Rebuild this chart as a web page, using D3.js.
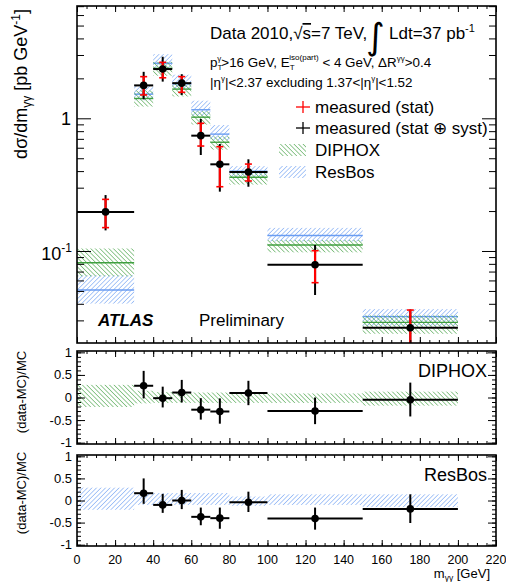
<!DOCTYPE html>
<html>
<head>
<meta charset="utf-8">
<title>Diphoton mass spectrum</title>
<style>
    body { margin: 0; background: #fff; }
    text { font-family: "Liberation Sans", Arial, sans-serif; fill: #000; }
</style>
</head>
<body>
<div id="chart"></div>
<script src="https://d3js.org/d3.v7.min.js"></script>
<script>
    // bins in m_gg [GeV]
    var binLo = [0, 30, 40, 50, 60, 70, 80, 100, 150];
    var binHi = [30, 40, 50, 60, 70, 80, 100, 150, 200];

    // measured cross section [pb/GeV] and error bar ends
    var dataVal = [0.197, 1.77, 2.35, 1.84, 0.74, 0.45, 0.394, 0.0788, 0.0264];
    var statHi  = [0.245, 2.06, 2.64, 2.06, 0.917, 0.611, 0.452, 0.1005, 0.0359];
    var statLo  = [0.150, 1.50, 2.02, 1.57, 0.618, 0.305, 0.337, 0.0577, 0.015];
    var totHi   = [0.264, 2.24, 2.91, 2.15, 0.988, 0.64, 0.491, 0.111, 0.0362];
    var totLo   = [0.143, 1.39, 1.89, 1.50, 0.529, 0.28, 0.305, 0.0466, 0.012];

    // predictions: central value and relative band (up / down)
    var diphoxVal = [0.0816, 1.41, 2.38, 1.66, 1.02, 0.66, 0.36, 0.111, 0.029];
    var diphoxUp  = [0.28, 0.15, 0.12, 0.12, 0.11, 0.11, 0.10, 0.09, 0.13];
    var diphoxDn  = [-0.21, -0.13, -0.12, -0.12, -0.12, -0.12, -0.12, -0.12, -0.18];
    var resbosVal = [0.0508, 1.52, 2.60, 1.82, 1.16, 0.76, 0.40, 0.131, 0.032];
    var resbosUp  = [0.29, 0.17, 0.17, 0.17, 0.17, 0.17, 0.09, 0.14, 0.14];
    var resbosDn  = [-0.21, -0.10, -0.10, -0.10, -0.10, -0.10, -0.12, -0.10, -0.15];

    // (data-MC)/MC
    var ratDiphox   = [null, 0.26, -0.015, 0.11, -0.27, -0.31, 0.10, -0.30, -0.05];
    var ratDiphoxHi = [null, 0.59, 0.24, 0.39, -0.015, -0.02, 0.37, 0.0, 0.33];
    var ratDiphoxLo = [null, -0.02, -0.22, -0.11, -0.49, -0.58, -0.17, -0.59, -0.42];
    var ratResbos   = [null, 0.165, -0.10, 0.0, -0.37, -0.40, -0.04, -0.41, -0.19];
    var ratResbosHi = [null, 0.50, 0.15, 0.24, -0.16, -0.16, 0.20, -0.16, 0.14];
    var ratResbosLo = [null, -0.075, -0.28, -0.195, -0.56, -0.64, -0.26, -0.66, -0.51];

    var xTicks = d3.range(0, 221, 20);

    var width = 506, height = 582;
    var green = '#3f9f3f', blue = '#6a9df2';

    var svg = d3.select('#chart').append('svg')
        .attr('width', width)
        .attr('height', height);

    var defs = svg.append('defs');
    function hatch(id, color, angle) {
        var p = defs.append('pattern')
            .attr('id', id)
            .attr('patternUnits', 'userSpaceOnUse')
            .attr('width', 3.2).attr('height', 3.2)
            .attr('patternTransform', 'rotate(' + angle + ')');
        p.append('line')
            .attr('x1', 0).attr('y1', 0).attr('x2', 0).attr('y2', 3.2)
            .attr('stroke', color).attr('stroke-width', 1.1);
    }
    hatch('hDiphox', green, -45);
    hatch('hResbos', blue, 45);

    var x = d3.scaleLinear().domain([0, 220]).range([77, 496]);
    var yMain = d3.scaleLog().domain([0.02026, 7.02]).range([343, 6]);
    var yR1 = d3.scaleLinear().domain([-1.03, 1.03]).range([444, 351]);
    var yR2 = d3.scaleLinear().domain([-1.03, 1.03]).range([546, 455]);

    var idx = d3.range(binLo.length);

    // tick helper: inward ticks, no labels
    function ticks(axis, scale, values, size, tx, ty) {
        var g = svg.append('g')
            .attr('transform', 'translate(' + tx + ',' + ty + ')')
            .call(axis(scale).tickValues(values).tickSize(size).tickFormat(''));
        g.select('.domain').remove();
        g.selectAll('line').attr('stroke', '#000').attr('stroke-width', 1);
    }

    function frame(yScale) {
        var r = yScale.range();
        svg.append('rect')
            .attr('x', x(0)).attr('y', r[1])
            .attr('width', x(220) - x(0)).attr('height', r[0] - r[1])
            .attr('fill', 'none').attr('stroke', '#000').attr('stroke-width', 1.6);
        var minor = d3.range(0, 221, 5);
        ticks(d3.axisTop, x, minor, 3, 0, r[0]);
        ticks(d3.axisTop, x, xTicks, 6, 0, r[0]);
        ticks(d3.axisBottom, x, minor, 3, 0, r[1]);
        ticks(d3.axisBottom, x, xTicks, 6, 0, r[1]);
    }

    function clip(id, yScale) {
        var r = yScale.range();
        defs.append('clipPath').attr('id', id).append('rect')
            .attr('x', x(0)).attr('y', r[1])
            .attr('width', x(220) - x(0)).attr('height', r[0] - r[1]);
        return svg.append('g').attr('clip-path', 'url(#' + id + ')');
    }

    // ---------------- main panel ----------------
    var main = clip('cMain', yMain);

    function bands(g, vals, up, dn, fill, line, ys) {
        g.selectAll(null).data(idx).enter().append('rect')
            .attr('x', function(i) { return x(binLo[i]); })
            .attr('width', function(i) { return x(binHi[i]) - x(binLo[i]); })
            .attr('y', function(i) { return ys(vals[i] * (1 + up[i])); })
            .attr('height', function(i) { return ys(vals[i] * (1 + dn[i])) - ys(vals[i] * (1 + up[i])); })
            .attr('fill', fill);
        if (line) {
            g.selectAll(null).data(idx).enter().append('line')
                .attr('x1', function(i) { return x(binLo[i]); })
                .attr('x2', function(i) { return x(binHi[i]); })
                .attr('y1', function(i) { return ys(vals[i]); })
                .attr('y2', function(i) { return ys(vals[i]); })
                .attr('stroke', line).attr('stroke-width', 1.4);
        }
    }
    bands(main, resbosVal, resbosUp, resbosDn, 'url(#hResbos)', blue, yMain);
    bands(main, diphoxVal, diphoxUp, diphoxDn, 'url(#hDiphox)', green, yMain);

    function points(g, vals, hi, lo, ys, stHi, stLo) {
        var ok = idx.filter(function(i) { return vals[i] !== null; });
        g.selectAll(null).data(ok).enter().append('line')
            .attr('x1', function(i) { return x(binLo[i]); })
            .attr('x2', function(i) { return x(binHi[i]); })
            .attr('y1', function(i) { return ys(vals[i]); })
            .attr('y2', function(i) { return ys(vals[i]); })
            .attr('stroke', '#000').attr('stroke-width', 2);
        g.selectAll(null).data(ok).enter().append('line')
            .attr('x1', function(i) { return x((binLo[i] + binHi[i]) / 2); })
            .attr('x2', function(i) { return x((binLo[i] + binHi[i]) / 2); })
            .attr('y1', function(i) { return ys(hi[i]); })
            .attr('y2', function(i) { return ys(lo[i]); })
            .attr('stroke', '#000').attr('stroke-width', 2);
        if (stHi) {
            g.selectAll(null).data(ok).enter().append('line')
                .attr('x1', function(i) { return x((binLo[i] + binHi[i]) / 2); })
                .attr('x2', function(i) { return x((binLo[i] + binHi[i]) / 2); })
                .attr('y1', function(i) { return ys(stHi[i]); })
                .attr('y2', function(i) { return ys(stLo[i]); })
                .attr('stroke', '#f00').attr('stroke-width', 2.2);
            [stHi, stLo].forEach(function(arr) {
                g.selectAll(null).data(ok).enter().append('line')
                    .attr('x1', function(i) { return x((binLo[i] + binHi[i]) / 2) - 3.5; })
                    .attr('x2', function(i) { return x((binLo[i] + binHi[i]) / 2) + 3.5; })
                    .attr('y1', function(i) { return ys(arr[i]); })
                    .attr('y2', function(i) { return ys(arr[i]); })
                    .attr('stroke', '#f00').attr('stroke-width', 1.6);
            });
        }
        g.selectAll(null).data(ok).enter().append('circle')
            .attr('cx', function(i) { return x((binLo[i] + binHi[i]) / 2); })
            .attr('cy', function(i) { return ys(vals[i]); })
            .attr('r', 3.8).attr('fill', '#000');
    }
    points(main, dataVal, totHi, totLo, yMain, statHi, statLo);

    frame(yMain);
    var logMinor = [0.03, 0.04, 0.05, 0.06, 0.07, 0.08, 0.09, 0.2, 0.3, 0.4, 0.5, 0.6, 0.7, 0.8, 0.9, 2, 3, 4, 5, 6, 7];
    ticks(d3.axisRight, yMain, logMinor, 7, x(0), 0);
    ticks(d3.axisRight, yMain, [0.1, 1], 14, x(0), 0);
    ticks(d3.axisLeft, yMain, logMinor, 7, x(220), 0);
    ticks(d3.axisLeft, yMain, [0.1, 1], 14, x(220), 0);

    svg.append('text').attr('x', 71).attr('y', yMain(1) + 6.5)
        .attr('text-anchor', 'end').style('font-size', '18px').text('1');
    var t10 = svg.append('text').attr('x', 72).attr('y', yMain(0.1) + 9)
        .attr('text-anchor', 'end').style('font-size', '18px');
    t10.append('tspan').text('10');
    t10.append('tspan').attr('dy', -8).style('font-size', '12px').text('-1');

    // y title
    var yt = svg.append('text')
        .attr('transform', 'translate(27,9) rotate(-90)')
        .attr('text-anchor', 'end').style('font-size', '18px');
    yt.append('tspan').text('dσ/dm');
    yt.append('tspan').attr('dy', 4).style('font-size', '12px').text('γγ');
    yt.append('tspan').attr('dy', -4).text(' [pb GeV');
    yt.append('tspan').attr('dy', -7).style('font-size', '12px').text('-1');
    yt.append('tspan').attr('dy', 7).text(']');

    // header text
    var h1 = svg.append('text').attr('x', 210).attr('y', 39).style('font-size', '17px');
    h1.append('tspan').text('Data 2010,√');
    h1.append('tspan').style('text-decoration', 'overline').text('s');
    h1.append('tspan').text('=7 TeV,');
    svg.append('text').attr('x', 366).attr('y', 49).style('font-size', '36px')
        .style('font-family', 'DejaVu Sans').text('∫');
    var h1b = svg.append('text').attr('x', 389).attr('y', 39).style('font-size', '17px');
    h1b.append('tspan').text('Ldt=37 pb');
    h1b.append('tspan').attr('dy', -7).style('font-size', '11px').text('-1');

    var h2 = svg.append('text').attr('x', 210).attr('y', 67).style('font-size', '13.4px');
    h2.append('tspan').text('p');
    h2.append('tspan').attr('dy', 3).style('font-size', '8px').text('T');
    h2.append('tspan').attr('dx', -5).attr('dy', -9).style('font-size', '8px').text('γ');
    h2.append('tspan').attr('dy', 6).text('>16 GeV, E');
    h2.append('tspan').attr('dy', 3).style('font-size', '8px').text('T');
    h2.append('tspan').attr('dx', -5).attr('dy', -10).style('font-size', '8px').text('iso(part)');
    h2.append('tspan').attr('dy', 7).text('  < 4 GeV, ΔR');
    h2.append('tspan').attr('dy', -6).style('font-size', '8px').text('γγ');
    h2.append('tspan').attr('dy', 6).text('>0.4');

    var h3 = svg.append('text').attr('x', 210).attr('y', 87).style('font-size', '13.4px');
    h3.append('tspan').text('|η');
    h3.append('tspan').attr('dy', -6).style('font-size', '8px').text('γ');
    h3.append('tspan').attr('dy', 6).text('|<2.37 excluding 1.37<|η');
    h3.append('tspan').attr('dy', -6).style('font-size', '8px').text('γ');
    h3.append('tspan').attr('dy', 6).text('|<1.52');

    // legend
    var legendLabels = ['measured (stat)', 'measured (stat ⊕ syst)', 'DIPHOX', 'ResBos'];
    var legendY = [107, 128, 150, 172];
    legendLabels.forEach(function(lab, i) {
        var cy = legendY[i];
        if (i < 2) {
            var c = i === 0 ? '#f00' : '#000';
            svg.append('line').attr('x1', 296).attr('x2', 310).attr('y1', cy).attr('y2', cy)
                .attr('stroke', c).attr('stroke-width', 1.3);
            svg.append('line').attr('x1', 303).attr('x2', 303).attr('y1', cy - 6).attr('y2', cy + 6)
                .attr('stroke', c).attr('stroke-width', 1.3);
        } else {
            svg.append('rect').attr('x', 279).attr('y', cy - 6).attr('width', 27).attr('height', 12)
                .attr('fill', i === 2 ? 'url(#hDiphox)' : 'url(#hResbos)');
        }
        svg.append('text').attr('x', 315).attr('y', cy + 6).style('font-size', '17px').text(lab);
    });

    svg.append('text').attr('x', 98).attr('y', 326).style('font-size', '17px')
        .style('font-weight', 'bold').style('font-style', 'italic').text('ATLAS');
    svg.append('text').attr('x', 199).attr('y', 326).style('font-size', '17px').text('Preliminary');

    // ---------------- ratio panels ----------------
    function ratioPanel(id, ys, vals, up, dn, fill, rv, rHi, rLo, name, nameY) {
        var g = clip(id, ys);
        var zero = idx.map(function() { return 1; });
        bands(g, zero, up, dn, fill, null, function(v) { return ys(v - 1); });
        points(g, rv, rHi, rLo, ys);
        frame(ys);
        var minor = d3.range(-10, 11).map(function(d) { return d / 10; });
        var major = [-1, -0.5, 0, 0.5, 1];
        ticks(d3.axisRight, ys, minor, 4, x(0), 0);
        ticks(d3.axisRight, ys, major, 8, x(0), 0);
        ticks(d3.axisLeft, ys, minor, 4, x(220), 0);
        ticks(d3.axisLeft, ys, major, 8, x(220), 0);
        svg.selectAll(null).data(major).enter().append('text')
            .attr('x', 72).attr('y', function(d) { return ys(d) + 4.5; })
            .attr('text-anchor', 'end').style('font-size', '13px')
            .text(function(d) { return d; });
        svg.append('text')
            .attr('transform', 'translate(26,' + nameY + ') rotate(-90)')
            .attr('text-anchor', 'middle').style('font-size', '13px').text('(data-MC)/MC');
        svg.append('text').attr('x', 487).attr('y', ys.range()[1] + 26)
            .attr('text-anchor', 'end').style('font-size', '18px').text(name);
    }
    ratioPanel('cR1', yR1, diphoxVal, diphoxUp, diphoxDn, 'url(#hDiphox)',
        ratDiphox, ratDiphoxHi, ratDiphoxLo, 'DIPHOX', 392);
    ratioPanel('cR2', yR2, resbosVal, resbosUp, resbosDn, 'url(#hResbos)',
        ratResbos, ratResbosHi, ratResbosLo, 'ResBos', 493);

    // x tick labels and title
    svg.selectAll(null).data(xTicks).enter().append('text')
        .attr('x', function(d) { return x(d); }).attr('y', 564)
        .attr('text-anchor', 'middle').style('font-size', '12.5px')
        .text(function(d) { return d; });
    var xt = svg.append('text').attr('x', 490).attr('y', 578)
        .attr('text-anchor', 'end').style('font-size', '13px');
    xt.append('tspan').text('m');
    xt.append('tspan').attr('dy', 3).style('font-size', '8.5px').text('γγ');
    xt.append('tspan').attr('dy', -3).text(' [GeV]');
</script>
</body>
</html>
